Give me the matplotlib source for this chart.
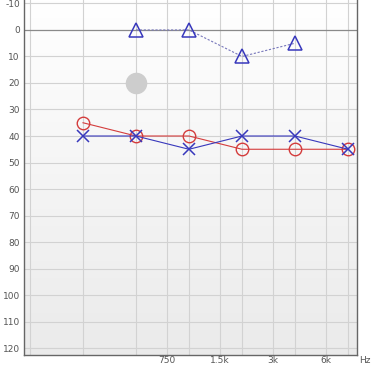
import matplotlib
matplotlib.use("Agg")
import matplotlib.pyplot as plt
import numpy as np

freqs = [250, 500, 1000, 2000, 4000, 8000]
right_ac = [35, 40, 40, 45, 45, 45]
left_ac = [40, 40, 45, 40, 40, 45]
bc_freqs = [500, 1000, 2000, 4000]
bc_vals = [0, 0, 10, 5]
gray_freq = [500]
gray_val = [20]
y_ticks = [-10, 0, 10, 20, 30, 40, 50, 60, 70, 80, 90, 100, 110, 120]
x_grid = [125, 250, 500, 750, 1000, 1500, 2000, 3000, 4000, 6000, 8000]
x_labels = {750: "750", 1500: "1.5k", 3000: "3k", 6000: "6k"}

fig = plt.figure(figsize=(3.75, 3.66), dpi=100)
ax = fig.add_axes([24/375, 11/366, 333/375, 355/366])
ax.set_xscale("log", base=2)
ax.set_xlim(115.6, 9000)
ax.set_ylim(122.6, -11.3)

# gradient background
grad = np.linspace(1.0, 0.92, 256).reshape(-1, 1)
ax.imshow(np.dstack([grad, grad, grad]), extent=[0, 1, 0, 1], transform=ax.transAxes,
          aspect="auto", zorder=0, origin="upper")

for f in x_grid:
    ax.axvline(f, color="#d2d2d2", lw=0.8, zorder=1)
for y in y_ticks:
    ax.axhline(y, color="#8a8a8a" if y == 0 else "#d2d2d2", lw=0.9 if y == 0 else 0.8, zorder=1)

ax.set_yticks(y_ticks)
ax.set_yticklabels([str(v) for v in y_ticks])
ax.set_xticks(list(x_labels.keys()))
ax.set_xticklabels(list(x_labels.values()))
ax.xaxis.set_minor_locator(matplotlib.ticker.NullLocator())
ax.tick_params(axis="both", length=0, labelsize=6.5, colors="#555555", pad=3)
ax.tick_params(axis="x", pad=1)
ax.text(1.025, -0.004, "Hz", transform=ax.transAxes, fontsize=6.5, color="#555555", va="top", ha="center")

for s in ["left", "bottom", "right"]:
    ax.spines[s].set_color("#666666")
    ax.spines[s].set_linewidth(1.0)
ax.spines["top"].set_visible(False)

red = "#d43c3c"
blue = "#3838bc"

ax.plot(gray_freq, gray_val, "o", ms=14.5, color="#cdcdcd", zorder=3)
ax.plot(freqs, right_ac, "-", color=red, lw=0.8, marker="o", ms=9, mfc="none", mec=red, mew=1.0, zorder=4)
ax.plot(freqs, left_ac, "-", color=blue, lw=0.8, marker="x", ms=9, mec=blue, mew=1.1, zorder=5)
ax.plot(bc_freqs, bc_vals, linestyle=(0, (2, 1.5)), color="#7777bb", lw=0.8, zorder=4)
ax.plot(bc_freqs, bc_vals, "^", ms=10, mfc="none", mec=blue, mew=1.1, zorder=5)

fig.savefig("out.png", dpi=100)
